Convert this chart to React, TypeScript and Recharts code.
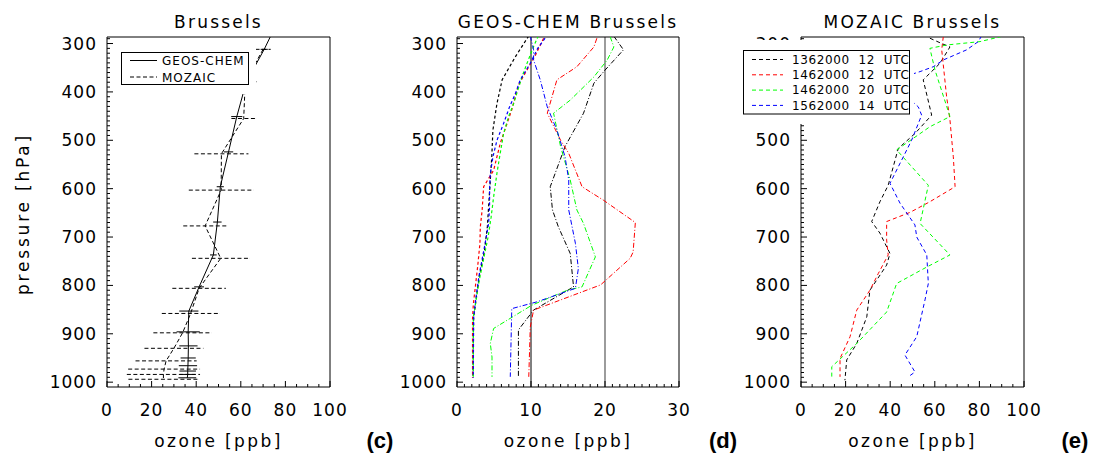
import React from "react";
import { ScatterChart, Scatter, XAxis, YAxis, ErrorBar, ReferenceLine, Legend } from "recharts";

type Pt = { o: number; p: number; e?: number };

// (c) Brussels mean profiles: o = ozone [ppb], p = pressure [hPa], e = std dev
const geosChemMean: Pt[] = [
  { o: 77, p: 250, e: 0 },
  { o: 70.5, p: 312, e: 1.6 },
  { o: 62.5, p: 379, e: 2 },
  { o: 58.2, p: 451, e: 2.5 },
  { o: 54.5, p: 524, e: 2.1 },
  { o: 50.8, p: 596, e: 1.6 },
  { o: 49.5, p: 669, e: 1.9 },
  { o: 47.7, p: 737, e: 1.5 },
  { o: 41.3, p: 803, e: 2.2 },
  { o: 36.7, p: 853, e: 4.3 },
  { o: 36.4, p: 896, e: 5.2 },
  { o: 36.5, p: 925, e: 4.1 },
  { o: 36.4, p: 950, e: 3.4 },
  { o: 36.3, p: 966, e: 4.1 },
  { o: 36.2, p: 977, e: 3.7 },
  { o: 36.2, p: 984, e: 3.5 },
  { o: 36.0, p: 991, e: 4.0 },
];

const mozaicMean: Pt[] = [
  { o: 70, p: 312, e: 3.4 },
  { o: 62, p: 379, e: 5 },
  { o: 61.3, p: 455, e: 5.5 },
  { o: 51.3, p: 528, e: 12.1 },
  { o: 51.2, p: 603, e: 14.5 },
  { o: 44, p: 677, e: 9.8 },
  { o: 51.0, p: 744, e: 12.9 },
  { o: 41.3, p: 806, e: 12.0 },
  { o: 37.5, p: 858, e: 12.9 },
  { o: 33.9, p: 898, e: 13.1 },
  { o: 30.0, p: 930, e: 13.2 },
  { o: 26.5, p: 956, e: 13.7 },
  { o: 25.6, p: 973, e: 16.1 },
  { o: 25.3, p: 984, e: 16.4 },
  { o: 25.3, p: 994, e: 15.7 },
];

// (d) GEOS-CHEM Brussels, dashed set
const gcDash1362_12: Pt[] = [
  { o: 9.7, p: 284 }, { o: 7.9, p: 327 }, { o: 6.1, p: 375 }, { o: 5.4, p: 424 },
  { o: 4.85, p: 479 }, { o: 4.7, p: 534 }, { o: 4.5, p: 582 }, { o: 4.3, p: 630 },
  { o: 4.1, p: 679 }, { o: 3.7, p: 730 }, { o: 3.0, p: 782 }, { o: 2.5, p: 838 },
  { o: 2.25, p: 866 }, { o: 2.2, p: 920 }, { o: 2.15, p: 991 },
];
const gcDash1462_12: Pt[] = [
  { o: 11.7, p: 289 }, { o: 10.6, p: 324 }, { o: 9.7, p: 348 }, { o: 8.3, p: 386 },
  { o: 7.4, p: 437 }, { o: 5.85, p: 506 }, { o: 4.95, p: 562 }, { o: 3.6, p: 596 },
  { o: 3.4, p: 644 }, { o: 3.15, p: 679 }, { o: 3.1, p: 713 }, { o: 2.8, p: 760 },
  { o: 2.5, p: 800 }, { o: 2.2, p: 840 }, { o: 2.1, p: 870 }, { o: 2.1, p: 991 },
];
const gcDash1462_20: Pt[] = [
  { o: 11.0, p: 284 }, { o: 10.35, p: 306 }, { o: 9.46, p: 341 }, { o: 8.78, p: 369 },
  { o: 7.65, p: 424 }, { o: 6.97, p: 451 }, { o: 6.3, p: 486 }, { o: 5.76, p: 534 },
  { o: 5.4, p: 568 }, { o: 4.95, p: 617 }, { o: 4.6, p: 660 }, { o: 4.2, p: 700 },
  { o: 3.6, p: 745 }, { o: 3.0, p: 790 }, { o: 2.5, p: 838 }, { o: 2.2, p: 866 },
  { o: 2.2, p: 991 },
];
const gcDash1562_14: Pt[] = [
  { o: 11.9, p: 289 }, { o: 10.9, p: 310 }, { o: 9.9, p: 341 }, { o: 8.55, p: 375 },
  { o: 7.9, p: 403 }, { o: 7.1, p: 431 }, { o: 6.3, p: 465 }, { o: 5.4, p: 500 },
  { o: 4.86, p: 534 }, { o: 4.5, p: 568 }, { o: 4.4, p: 603 }, { o: 4.4, p: 637 },
  { o: 4.27, p: 672 }, { o: 3.8, p: 713 }, { o: 2.95, p: 782 }, { o: 2.45, p: 838 },
  { o: 2.25, p: 866 }, { o: 2.2, p: 991 },
];

// (d) GEOS-CHEM Brussels, dash-dot set
const gcDot1362_12: Pt[] = [
  { o: 21.2, p: 285 }, { o: 22.5, p: 313 }, { o: 20.0, p: 355 }, { o: 18.5, p: 382 },
  { o: 17.1, p: 444 }, { o: 14.6, p: 513 }, { o: 12.6, p: 596 }, { o: 12.9, p: 644 },
  { o: 13.7, p: 679 }, { o: 15.3, p: 734 }, { o: 15.75, p: 803 }, { o: 12.6, p: 831 },
  { o: 10.35, p: 851 }, { o: 8.3, p: 892 }, { o: 8.3, p: 989 },
];
const gcDot1462_12: Pt[] = [
  { o: 18.9, p: 289 }, { o: 18.5, p: 307 }, { o: 16.2, p: 348 }, { o: 13.5, p: 375 },
  { o: 12.2, p: 444 }, { o: 14.0, p: 500 }, { o: 15.1, p: 527 }, { o: 16.9, p: 596 },
  { o: 19.8, p: 624 }, { o: 24.1, p: 670 }, { o: 23.8, p: 731 }, { o: 23.4, p: 744 },
  { o: 19.4, p: 799 }, { o: 10.35, p: 851 }, { o: 9.9, p: 886 }, { o: 9.7, p: 989 },
];
const gcDot1462_20: Pt[] = [
  { o: 20.7, p: 286 }, { o: 21.2, p: 307 }, { o: 20.3, p: 334 }, { o: 18.5, p: 369 },
  { o: 15.3, p: 417 }, { o: 13.05, p: 444 }, { o: 14.0, p: 513 }, { o: 15.3, p: 582 },
  { o: 16.2, p: 644 }, { o: 17.1, p: 672 }, { o: 18.7, p: 741 }, { o: 16.9, p: 803 },
  { o: 14.9, p: 810 }, { o: 10.1, p: 841 }, { o: 4.95, p: 889 }, { o: 4.5, p: 920 },
  { o: 4.73, p: 948 }, { o: 4.73, p: 989 },
];
const gcDot1562_14: Pt[] = [
  { o: 9.9, p: 284 }, { o: 10.35, p: 313 }, { o: 10.35, p: 334 }, { o: 11.25, p: 375 },
  { o: 12.2, p: 431 }, { o: 13.5, p: 479 }, { o: 14.6, p: 534 }, { o: 15.1, p: 582 },
  { o: 15.1, p: 644 }, { o: 16.0, p: 713 }, { o: 16.4, p: 765 }, { o: 16.0, p: 806 },
  { o: 10.8, p: 834 }, { o: 7.4, p: 848 }, { o: 7.2, p: 989 },
];

// (e) MOZAIC Brussels flights
const moz1362_12: Pt[] = [
  { o: 57.8, p: 289 }, { o: 63.1, p: 300 }, { o: 66.8, p: 307 }, { o: 62.3, p: 341 },
  { o: 54.8, p: 375 }, { o: 58.6, p: 448 }, { o: 51.1, p: 486 }, { o: 43.6, p: 517 },
  { o: 39.1, p: 593 }, { o: 35.4, p: 627 }, { o: 31.7, p: 668 }, { o: 35.4, p: 692 },
  { o: 39.9, p: 734 }, { o: 38.4, p: 758 }, { o: 30.9, p: 810 }, { o: 29.5, p: 865 },
  { o: 25.0, p: 920 }, { o: 20.5, p: 954 }, { o: 19.7, p: 996 },
];
const moz1462_12: Pt[] = [
  { o: 63.8, p: 286 }, { o: 63.1, p: 313 }, { o: 65.3, p: 410 }, { o: 66.8, p: 458 },
  { o: 68.3, p: 534 }, { o: 69.1, p: 596 }, { o: 57.8, p: 627 }, { o: 48.9, p: 649 },
  { o: 38.4, p: 668 }, { o: 38.4, p: 706 }, { o: 39.1, p: 737 }, { o: 34.7, p: 775 },
  { o: 30.9, p: 810 }, { o: 25.0, p: 851 }, { o: 22.0, p: 906 }, { o: 17.5, p: 951 },
  { o: 17.5, p: 989 },
];
const moz1462_20: Pt[] = [
  { o: 93, p: 282 }, { o: 80.3, p: 296 }, { o: 65.3, p: 303 }, { o: 57.8, p: 310 },
  { o: 60.1, p: 355 }, { o: 66.8, p: 451 }, { o: 57.8, p: 472 }, { o: 42.9, p: 520 },
  { o: 57.1, p: 593 }, { o: 53.4, p: 672 }, { o: 66.8, p: 737 }, { o: 56.4, p: 762 },
  { o: 42.9, p: 796 }, { o: 38.4, p: 855 }, { o: 25.0, p: 920 }, { o: 13.8, p: 968 },
  { o: 13.8, p: 989 },
];
const moz1562_14: Pt[] = [
  { o: 81.0, p: 284 }, { o: 79.5, p: 296 }, { o: 74.3, p: 313 }, { o: 63.8, p: 334 },
  { o: 59.3, p: 348 }, { o: 53.4, p: 358 }, { o: 40, p: 378 }, { o: 52.6, p: 431 },
  { o: 54.1, p: 448 }, { o: 49.6, p: 500 }, { o: 39.9, p: 589 }, { o: 44.4, p: 630 },
  { o: 51.1, p: 675 }, { o: 51.9, p: 700 }, { o: 56.4, p: 737 }, { o: 57.1, p: 796 },
  { o: 55.6, p: 830 }, { o: 51.9, p: 906 }, { o: 46.6, p: 944 }, { o: 51.1, p: 979 },
  { o: 48.1, p: 989 },
];

const pressureTicks = [300, 400, 500, 600, 700, 800, 900, 1000];
const ozoneTicks = [0, 20, 40, 60, 80, 100];
const ozoneTicksD = [0, 10, 20, 30];
const markerLinesD = [10, 20];
const compareLabels = ["GEOS-CHEM", "MOZAIC"];
const flightLabels = ["1362000  12  UTC", "1462000  12  UTC", "1462000  20  UTC", "1562000  14  UTC"];
const flightColors = ["#000000", "#ff0000", "#00ff00", "#0000ff"];

const FONT = "'DejaVu Sans', Verdana, sans-serif";
const P_DOMAIN: [number, number] = [286.5, 1010];

const steps = (a: number, b: number, s: number) => {
  const out: number[] = [];
  for (let v = a; v <= b + 1e-9; v += s) out.push(Math.round(v * 100) / 100);
  return out;
};

const noDot = () => <g />;

function makeXTick(majors: number[], side: "bottom" | "top") {
  return (props: any) => {
    const { x, y, payload } = props;
    const v = payload.value;
    const major = majors.includes(v);
    const dir = side === "bottom" ? -1 : 1;
    return (
      <g>
        <line x1={x} y1={y} x2={x} y2={y + dir * (major ? 6 : 3)} stroke="#000" strokeWidth={1} />
        {side === "bottom" && major ? (
          <text x={x} y={y + 29} textAnchor="middle" fontFamily={FONT} fontSize={17} letterSpacing={1} fill="#000">
            {v}
          </text>
        ) : null}
      </g>
    );
  };
}

function makeYTick(majors: number[], side: "left" | "right") {
  return (props: any) => {
    const { x, y, payload } = props;
    const v = payload.value;
    const major = majors.includes(v);
    const dir = side === "left" ? 1 : -1;
    return (
      <g>
        <line x1={x} y1={y} x2={x + dir * (major ? 6 : 3)} y2={y} stroke="#000" strokeWidth={1} />
        {side === "left" && major ? (
          <text x={x - 10} y={y + 6} textAnchor="end" fontFamily={FONT} fontSize={17} letterSpacing={1} fill="#000">
            {v}
          </text>
        ) : null}
      </g>
    );
  };
}

// axes need a size of at least 1px or they are not drawn
function frame(xDomain: [number, number], xMajors: number[], xMinor: number) {
  const xTicks = steps(xDomain[0], xDomain[1], xMinor);
  const yTicks = steps(290, 1000, 10);
  const common: any = {
    type: "number",
    tickSize: 0,
    tickMargin: 0,
    tickLine: false,
    interval: 0,
    axisLine: { stroke: "#000", strokeWidth: 1 },
  };
  return [
    <XAxis key="xb" xAxisId={0} dataKey="o" orientation="bottom" domain={xDomain} ticks={xTicks} height={1}
      tick={makeXTick(xMajors, "bottom")} allowDataOverflow {...common} />,
    <XAxis key="xt" xAxisId="top" orientation="top" domain={xDomain} ticks={xTicks} height={1}
      tick={makeXTick(xMajors, "top")} {...common} />,
    <YAxis key="yl" yAxisId={0} dataKey="p" orientation="left" domain={P_DOMAIN} reversed ticks={yTicks} width={1}
      tick={makeYTick(pressureTicks, "left")} allowDataOverflow {...common} />,
    <YAxis key="yr" yAxisId="right" orientation="right" domain={P_DOMAIN} reversed ticks={yTicks} width={1}
      tick={makeYTick(pressureTicks, "right")} {...common} />,
  ];
}

function profile(key: string, data: Pt[], color: string, dash: string | undefined, width = 1) {
  return (
    <Scatter key={key} data={data} fill={color} shape={noDot} lineType="joint" isAnimationActive={false}
      line={{ stroke: color, strokeWidth: width, strokeDasharray: dash }} />
  );
}

function CompareLegend() {
  return (
    <svg width={143} height={51} style={{ display: "block", background: "#fff" }}>
      <rect x={8.5} y={9.5} width={127} height={32} fill="#fff" stroke="#000" />
      {compareLabels.map((lab, i) => (
        <g key={lab}>
          <line x1={17} x2={44} y1={17.5 + i * 16.5} y2={17.5 + i * 16.5} stroke="#000"
            strokeDasharray={i === 1 ? "4 2.5" : undefined} />
          <text x={49} y={22 + i * 16.5} fontFamily={FONT} fontSize={12} letterSpacing={1} fill="#000">{lab}</text>
        </g>
      ))}
    </svg>
  );
}

function FlightLegend() {
  return (
    <svg width={181} height={84} style={{ display: "block", background: "#fff" }}>
      <rect x={10.5} y={10.5} width={166} height={63.5} fill="#fff" stroke="#000" />
      {flightLabels.map((lab, i) => (
        <g key={lab}>
          <line x1={19} x2={50} y1={19.5 + i * 15.3} y2={19.5 + i * 15.3} stroke={flightColors[i]} strokeDasharray="4 3" />
          <text x={59} y={23.8 + i * 15.3} fontFamily={FONT} fontSize={12} letterSpacing={0.6} fill="#000"
            style={{ whiteSpace: "pre" }}>{lab}</text>
        </g>
      ))}
    </svg>
  );
}

const gcDashed = [gcDash1362_12, gcDash1462_12, gcDash1462_20, gcDash1562_14];
const gcDotted = [gcDot1362_12, gcDot1462_12, gcDot1462_20, gcDot1562_14];
const mozFlights = [moz1362_12, moz1462_12, moz1462_20, moz1562_14];

const txt = { fontFamily: FONT, fontSize: 17, fill: "#000" } as const;
const tag = { fontFamily: "'Liberation Sans', Arial, sans-serif", fontSize: 22, fontWeight: 700, fill: "#000" } as const;

export default function App() {
  return (
    <div style={{ position: "absolute", left: 0, top: 0, width: 1094, height: 457, background: "#fff", overflow: "hidden" }}>
      <div style={{ position: "absolute", left: 0, top: 0 }}>
        <ScatterChart width={360} height={457} margin={{ top: 36, right: 29, bottom: 69, left: 106 }}>
          {frame([0, 100], ozoneTicks, 5)}
          <Scatter data={mozaicMean} fill="#000" shape={noDot} lineType="joint" isAnimationActive={false}
            line={{ stroke: "#000", strokeWidth: 1, strokeDasharray: "4 2.5" }}>
            <ErrorBar dataKey="e" direction="x" width={0} stroke="#000" strokeWidth={1} strokeDasharray="4 2.5" isAnimationActive={false} />
          </Scatter>
          <Scatter data={geosChemMean} fill="#000" shape={noDot} lineType="joint" isAnimationActive={false}
            line={{ stroke: "#000", strokeWidth: 1 }}>
            <ErrorBar dataKey="e" direction="x" width={0} stroke="#000" strokeWidth={1} isAnimationActive={false} />
          </Scatter>
          <Legend layout="horizontal" verticalAlign="middle" align="center"
            wrapperStyle={{ left: 113, top: 43, width: 143, height: 51 }} content={() => <CompareLegend />} />
        </ScatterChart>
      </div>

      <div style={{ position: "absolute", left: 345, top: 0 }}>
        <ScatterChart width={360} height={457} margin={{ top: 36, right: 25, bottom: 69, left: 111 }}>
          {frame([0, 30], ozoneTicksD, 1)}
          {markerLinesD.map((v, i) => (
            <ReferenceLine key={v} x={v} stroke={i === 0 ? "#000" : "#666"} strokeWidth={i === 0 ? 1 : 1.3} />
          ))}
          {gcDashed.map((d, i) => profile("gd" + i, d, flightColors[i], "3 2.5", 1.2))}
          {gcDotted.map((d, i) => profile("gt" + i, d, flightColors[i], "5 2 1 2", 1))}
        </ScatterChart>
      </div>

      <div style={{ position: "absolute", left: 690, top: 0 }}>
        <ScatterChart width={404} height={457} margin={{ top: 36, right: 69, bottom: 69, left: 110 }}>
          {frame([0, 100], ozoneTicks, 5)}
          {mozFlights.map((d, i) => profile("mf" + i, d, flightColors[i], "4 3", 1))}
          <Legend layout="horizontal" verticalAlign="middle" align="center"
            wrapperStyle={{ left: 43, top: 40, width: 181, height: 84 }} content={() => <FlightLegend />} />
        </ScatterChart>
      </div>

      <svg width={1094} height={457} style={{ position: "absolute", left: 0, top: 0, pointerEvents: "none" }}>
        <text x={218.5} y={28} textAnchor="middle" letterSpacing={2.2} {...txt}>Brussels</text>
        <text x={568} y={28} textAnchor="middle" letterSpacing={2.2} {...txt}>GEOS-CHEM Brussels</text>
        <text x={912.5} y={28} textAnchor="middle" letterSpacing={2.2} {...txt}>MOZAIC Brussels</text>
        {[218.5, 568, 912.5].map((cx) => (
          <text key={cx} x={cx} y={447} textAnchor="middle" letterSpacing={2.4} {...txt}>ozone [ppb]</text>
        ))}
        <text x={28.5} y={214} transform="rotate(-90 28.5 214)" textAnchor="middle" letterSpacing={2.8} {...txt}>
          pressure [hPa]
        </text>
        <text x={380} y={448} textAnchor="middle" {...tag}>(c)</text>
        <text x={723} y={448} textAnchor="middle" {...tag}>(d)</text>
        <text x={1075} y={448} textAnchor="middle" {...tag}>(e)</text>
      </svg>
    </div>
  );
}
